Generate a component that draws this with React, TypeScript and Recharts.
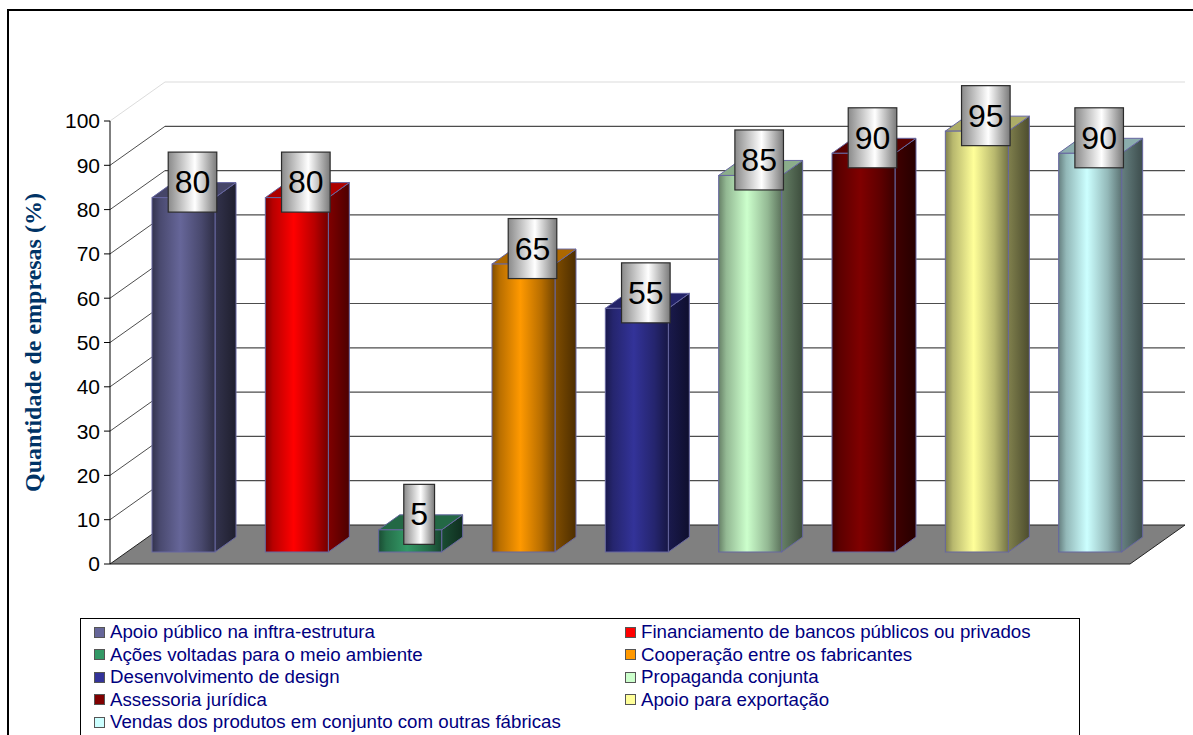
import React from "react";
import { BarChart, Bar, XAxis, YAxis, CartesianGrid, LabelList, Legend } from "recharts";

const categories = [
  "Apoio público na inftra-estrutura",
  "Financiamento de bancos públicos ou privados",
  "Ações voltadas para o meio ambiente",
  "Cooperação entre os fabricantes",
  "Desenvolvimento de design",
  "Propaganda conjunta",
  "Assessoria jurídica",
  "Apoio para exportação",
  "Vendas dos produtos em conjunto com outras fábricas",
];
const percentages = [80, 80, 5, 65, 55, 85, 90, 95, 90];
const yTicks = [0, 10, 20, 30, 40, 50, 60, 70, 80, 90, 100];
const barColors = [
  "#666699", "#ff0000", "#339966", "#ff9900", "#333399",
  "#ccffcc", "#800000", "#ffff99", "#ccffff",
];

const chartData = categories.map((name, i) => ({ name, value: percentages[i] }));

const SANS = "Arial, 'Liberation Sans', sans-serif";
const SERIF = "'Times New Roman', 'Liberation Serif', serif";

// plot box (front plane) and the fake 3D depth
const PLOT_TOP = 121;
const PLOT_BOTTOM = 564;
const WALL_DX = 55;
const WALL_DY = 39;
const BAR_IN_X = 17;
const BAR_IN_Y = 12;
const BAR_DX = 21;
const BAR_DY = 15;

const shade = (hex: string, f: number) => {
  const n = parseInt(hex.slice(1), 16);
  const r = Math.min(255, Math.round(((n >> 16) & 255) * f));
  const g = Math.min(255, Math.round(((n >> 8) & 255) * f));
  const b = Math.min(255, Math.round((n & 255) * f));
  return `rgb(${r},${g},${b})`;
};

// back wall lines, left wall diagonals and the floor
const renderGridLine = (p: any) => {
  const { x1, y1, x2, y2 } = p;
  if (Math.abs(y1 - PLOT_BOTTOM) < 0.5) {
    return (
      <polygon
        key={p.key}
        points={`${x1},${y1} ${x2},${y2} ${x2 + WALL_DX},${y2 - WALL_DY} ${x1 + WALL_DX},${y1 - WALL_DY}`}
        fill="#808080"
        stroke="#222"
        strokeWidth={1}
      />
    );
  }
  const isTop = Math.abs(y1 - PLOT_TOP) < 0.5;
  const stroke = isTop ? "#dcdcdc" : "#4d4d4d";
  return (
    <g key={p.key}>
      <line x1={x1} y1={y1} x2={x1 + WALL_DX} y2={y1 - WALL_DY} stroke={stroke} strokeWidth={1} />
      <line x1={x1 + WALL_DX} y1={y1 - WALL_DY} x2={x2 + WALL_DX} y2={y2 - WALL_DY} stroke={stroke} strokeWidth={1.2} />
    </g>
  );
};

const Bar3D = (props: any) => {
  const { x, y, width, height, index } = props;
  const c = barColors[index];
  const fx = x + BAR_IN_X;
  const fy = y - BAR_IN_Y;
  const w = width;
  const h = height;
  const frontId = `front-${index}`;
  const sideId = `side-${index}`;
  return (
    <g>
      <defs>
        <linearGradient id={frontId} x1="0" y1="0" x2="1" y2="0">
          <stop offset="0%" stopColor={shade(c, 0.5)} />
          <stop offset="12%" stopColor={shade(c, 0.72)} />
          <stop offset="45%" stopColor={shade(c, 1)} />
          <stop offset="78%" stopColor={shade(c, 0.72)} />
          <stop offset="100%" stopColor={shade(c, 0.45)} />
        </linearGradient>
        <linearGradient id={sideId} x1="0" y1="0" x2="1" y2="0">
          <stop offset="0%" stopColor={shade(c, 0.5)} />
          <stop offset="100%" stopColor={shade(c, 0.3)} />
        </linearGradient>
      </defs>
      <polygon
        points={`${fx + w},${fy} ${fx + w + BAR_DX},${fy - BAR_DY} ${fx + w + BAR_DX},${fy + h - BAR_DY} ${fx + w},${fy + h}`}
        fill={`url(#${sideId})`}
        stroke="#6666a0"
        strokeWidth={1}
      />
      <polygon
        points={`${fx},${fy} ${fx + BAR_DX},${fy - BAR_DY} ${fx + w + BAR_DX},${fy - BAR_DY} ${fx + w},${fy}`}
        fill={shade(c, 0.68)}
        stroke="#6666a0"
        strokeWidth={1}
      />
      <rect x={fx} y={fy} width={w} height={h} fill={`url(#${frontId})`} stroke="#6666a0" strokeWidth={1} />
    </g>
  );
};

const ValueBox = (p: any) => {
  const vb = p.viewBox ?? p;
  const { x, y, width } = vb;
  const idx = p.index ?? 0;
  const text = String(p.value);
  const fs = 32;
  const bw = text.length * fs * 0.556 + 13;
  const bh = 60;
  const cx = x + width / 2 + BAR_IN_X + 9;
  const cy = y - BAR_IN_Y - 15.5;
  const gid = `lbl-${idx}`;
  return (
    <g>
      <defs>
        <linearGradient id={gid} x1="0" y1="0" x2="1" y2="0">
          <stop offset="0%" stopColor="#8a8a8a" />
          <stop offset="55%" stopColor="#ffffff" />
          <stop offset="100%" stopColor="#7a7a7a" />
        </linearGradient>
      </defs>
      <rect x={cx - bw / 2} y={cy - bh / 2} width={bw} height={bh} fill={`url(#${gid})`} stroke="#2b2b2b" strokeWidth={1.2} />
      <text x={cx} y={cy} textAnchor="middle" dominantBaseline="central" fontFamily={SANS} fontSize={fs} fill="#000">
        {text}
      </text>
    </g>
  );
};

const renderAxisTitle = (p: any) => {
  const vb = p?.viewBox;
  const cx = vb ? vb.x - 17 : 33;
  const cy = vb ? vb.y + vb.height / 2 : 342.5;
  return (
    <text
      x={cx}
      y={cy}
      transform={`rotate(-90, ${cx}, ${cy})`}
      textAnchor="middle"
      dominantBaseline="central"
      fontFamily={SERIF}
      fontWeight="bold"
      fontSize={24}
      fill="#003366"
    >
      Quantidade de empresas (%)
    </text>
  );
};

const renderLegend = () => (
  <div
    style={{
      position: "relative",
      width: 1000,
      height: 125,
      boxSizing: "border-box",
      border: "1px solid #000",
      background: "#fff",
    }}
  >
    {categories.map((name, i) => {
      const col = i % 2;
      const row = Math.floor(i / 2);
      return (
        <div
          key={name}
          style={{
            position: "absolute",
            left: col ? 544 : 13,
            top: 2 + row * 22.5,
            height: 22.5,
            display: "flex",
            alignItems: "center",
            whiteSpace: "nowrap",
          }}
        >
          <span
            style={{
              display: "inline-block",
              width: 9,
              height: 9,
              background: barColors[i],
              border: "1px solid #555",
              marginRight: 5,
            }}
          />
          <span style={{ fontFamily: SANS, fontSize: 18.7, color: "#000080", lineHeight: "22px" }}>{name}</span>
        </div>
      );
    })}
  </div>
);

export default function App() {
  return (
    <div style={{ position: "relative", width: 1193, height: 735, overflow: "hidden", background: "#fff" }}>
      <style>{"body{margin:0;overflow:hidden}"}</style>
      <div
        style={{
          position: "absolute",
          left: 7,
          top: 9,
          width: 1300,
          height: 1000,
          border: "2px solid #000",
        }}
      />
      <div style={{ position: "absolute", left: 0, top: 0 }}>
        <BarChart
          width={1193}
          height={735}
          data={chartData}
          margin={{ top: PLOT_TOP, right: 63, bottom: 735 - PLOT_BOTTOM, left: 50 }}
          barSize={63}
        >
          <CartesianGrid vertical={false} horizontal={renderGridLine} />
          <XAxis dataKey="name" hide />
          <YAxis
            type="number"
            domain={[0, 100]}
            ticks={yTicks}
            interval={0}
            width={60}
            axisLine={{ stroke: "#000" }}
            tickLine={{ stroke: "#000" }}
            tickSize={6}
            tickMargin={4}
            tick={{ fill: "#000", fontSize: 21, fontFamily: SANS }}
            label={renderAxisTitle}
          />
          <Bar dataKey="value" shape={<Bar3D />} isAnimationActive={false}>
            <LabelList dataKey="value" content={(p: any) => <ValueBox {...p} />} />
          </Bar>
          <Legend
            layout="horizontal"
            verticalAlign="middle"
            align="center"
            content={renderLegend}
            wrapperStyle={{ position: "absolute", left: 80, top: 618, width: 1000, height: 125, bottom: "auto" }}
          />
        </BarChart>
      </div>
    </div>
  );
}
